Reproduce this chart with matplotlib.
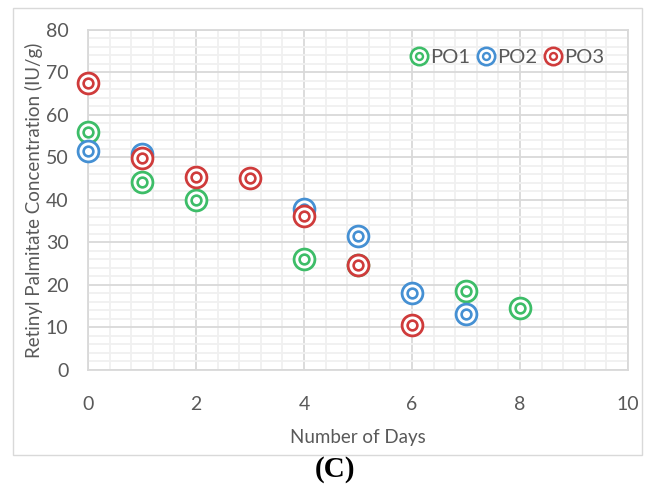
import matplotlib
matplotlib.use("Agg")
import matplotlib.pyplot as plt
from matplotlib.lines import Line2D
from matplotlib.legend_handler import HandlerTuple
from matplotlib.patches import Rectangle
from matplotlib.ticker import MultipleLocator

# data
po1_days = [0, 1, 2, 4, 5, 7, 8]
po1_conc = [56.0, 44.2, 40.0, 26.0, 24.6, 18.7, 14.7]

po2_days = [0, 1, 4, 5, 6, 7]
po2_conc = [51.5, 50.8, 37.8, 31.5, 18.2, 13.2]

po3_days = [0, 1, 2, 3, 4, 5, 6]
po3_conc = [67.5, 49.8, 45.4, 45.2, 36.2, 24.8, 10.6]

series_names = ["PO1", "PO2", "PO3"]

COLORS = {"PO1": "#3dbd68", "PO2": "#4590d3", "PO3": "#cf3b3b"}
TEXT = "#595959"

plt.rcParams["font.family"] = ["Lato", "DejaVu Sans"]

fig = plt.figure(figsize=(6.46, 4.93), dpi=100)
fig.patch.set_facecolor("white")

# light outer chart border
fig.patches.append(Rectangle((0.0201, 0.0771), 0.9737, 0.9067, transform=fig.transFigure,
                             fill=False, edgecolor="#d9d9d9", linewidth=1.0))

ax = fig.add_axes([0.1362, 0.2495, 0.836, 0.6897])


def ring_plot(ax, x, y, color, big=15, small=7, z=3):
    ax.plot(x, y, linestyle="", marker="o", markersize=big, markerfacecolor="white",
            markeredgecolor=color, markeredgewidth=2.0, zorder=z, clip_on=False)
    ax.plot(x, y, linestyle="", marker="o", markersize=small, markerfacecolor="white",
            markeredgecolor=color, markeredgewidth=1.9, zorder=z, clip_on=False)


ring_plot(ax, po1_days, po1_conc, COLORS["PO1"], z=3)
ring_plot(ax, po2_days, po2_conc, COLORS["PO2"], z=4)
ring_plot(ax, po3_days, po3_conc, COLORS["PO3"], z=5)

ax.set_xlim(0, 10)
ax.set_ylim(0, 80)
ax.xaxis.set_major_locator(MultipleLocator(2))
ax.xaxis.set_minor_locator(MultipleLocator(0.4))
ax.yaxis.set_major_locator(MultipleLocator(10))
ax.yaxis.set_minor_locator(MultipleLocator(2))
ax.set_axisbelow(True)
ax.grid(which="minor", color="#f0f0f0", linewidth=1.3)
ax.grid(which="major", color="#d9d9d9", linewidth=1.3)
for s in ax.spines.values():
    s.set_color("#d9d9d9")
    s.set_linewidth(1.3)
ax.tick_params(which="both", length=0, labelsize=14, colors=TEXT)
ax.tick_params(axis="x", pad=19)
ax.tick_params(axis="y", pad=14)

ax.set_xlabel("Number of Days", fontsize=13.5, color=TEXT, labelpad=11)
ax.set_ylabel("Retinyl Palmitate Concentration (IU/g)", fontsize=13.5, color=TEXT, labelpad=2)

handles = []
for name in series_names:
    c = COLORS[name]
    outer = Line2D([], [], linestyle="", marker="o", markersize=12.5, markerfacecolor="white",
                   markeredgecolor=c, markeredgewidth=1.9)
    inner = Line2D([], [], linestyle="", marker="o", markersize=5, markerfacecolor="white",
                   markeredgecolor=c, markeredgewidth=1.7)
    handles.append((outer, inner))

ax.legend(handles, series_names, handler_map={tuple: HandlerTuple(ndivide=1, pad=0)},
          loc="center", bbox_to_anchor=(0.776, 0.92), ncol=3, frameon=False,
          fontsize=14.5, handlelength=0.9, handletextpad=0.1, columnspacing=0.35,
          labelcolor=TEXT)

fig.text(0.5186, 0.0467, "(C)", ha="center", va="center", fontsize=21,
         fontweight="bold", family=["Liberation Serif", "DejaVu Serif"], color="black")

fig.savefig("out.png", dpi=100)
